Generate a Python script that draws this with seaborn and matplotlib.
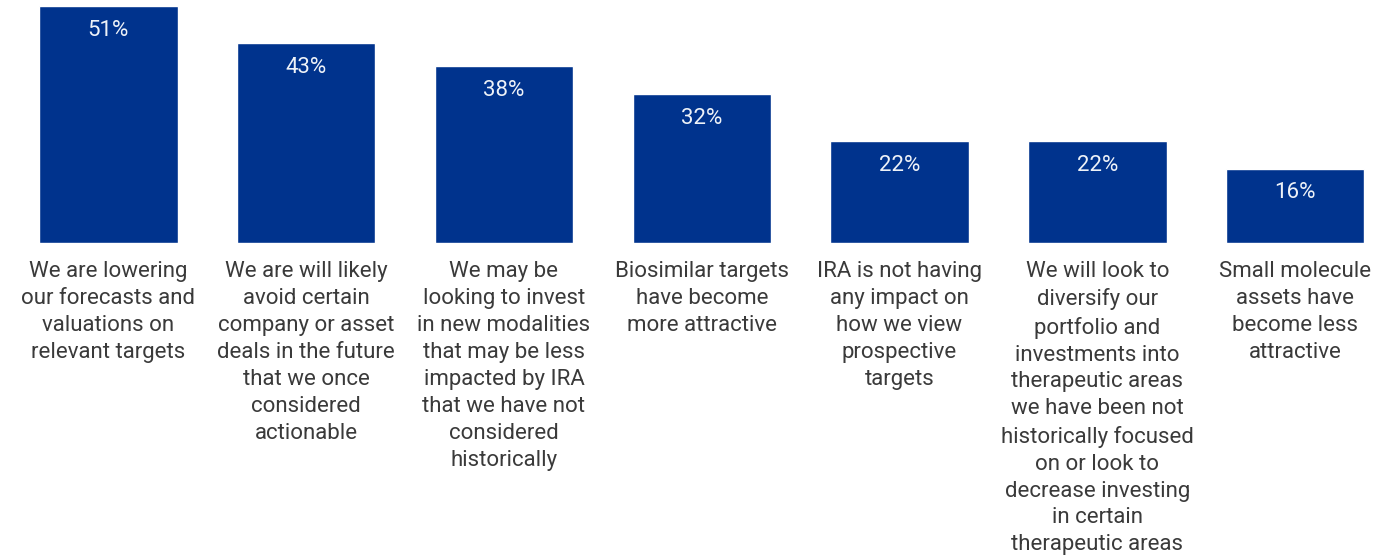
import pandas as pd
import seaborn as sns
import matplotlib.pyplot as plt

sns.set_style("white")
plt.rcParams['font.family'] = ['Roboto', 'DejaVu Sans']

# === Data ===
categories = [
    "We are lowering\nour forecasts and\nvaluations on\nrelevant targets",
    "We are will likely\navoid certain\ncompany or asset\ndeals in the future\nthat we once\nconsidered\nactionable",
    "We may be\nlooking to invest\nin new modalities\nthat may be less\nimpacted by IRA\nthat we have not\nconsidered\nhistorically",
    "Biosimilar targets\nhave become\nmore attractive",
    "IRA is not having\nany impact on\nhow we view\nprospective\ntargets",
    "We will look to\ndiversify our\nportfolio and\ninvestments into\ntherapeutic areas\nwe have been not\nhistorically focused\non or look to\ndecrease investing\nin certain\ntherapeutic areas",
    "Small molecule\nassets have\nbecome less\nattractive",
]
values = [51, 43, 38, 32, 22, 22, 16]

df = pd.DataFrame({"category": categories, "value": values})

bar_color = "#00338D"
text_color = "#3a3a3a"

fig = plt.figure(figsize=(13.95, 5.58), dpi=100)
ax = fig.add_axes([0.0068, 0.5645, 0.9925, 0.4247])

sns.barplot(data=df, x="category", y="value", color=bar_color,
            width=0.70, saturation=1, ax=ax)

ax.set_xlim(-0.5, 6.5)
ax.set_ylim(0, 51)

# percentage labels inside bar tops
ax.bar_label(ax.containers[0], labels=[f"{v}%" for v in values],
             padding=-25, color="#eef2f8", fontsize=16)

ax.set_xlabel("")
ax.set_ylabel("")
ax.set_yticks([])
ax.tick_params(axis="x", length=0, pad=13)
for lab in ax.get_xticklabels():
    lab.set_fontsize(16)
    lab.set_color(text_color)
    lab.set_linespacing(1.37)
    lab.set_multialignment("center")

sns.despine(ax=ax, left=True, bottom=True)

fig.savefig("out.png", dpi=100)
